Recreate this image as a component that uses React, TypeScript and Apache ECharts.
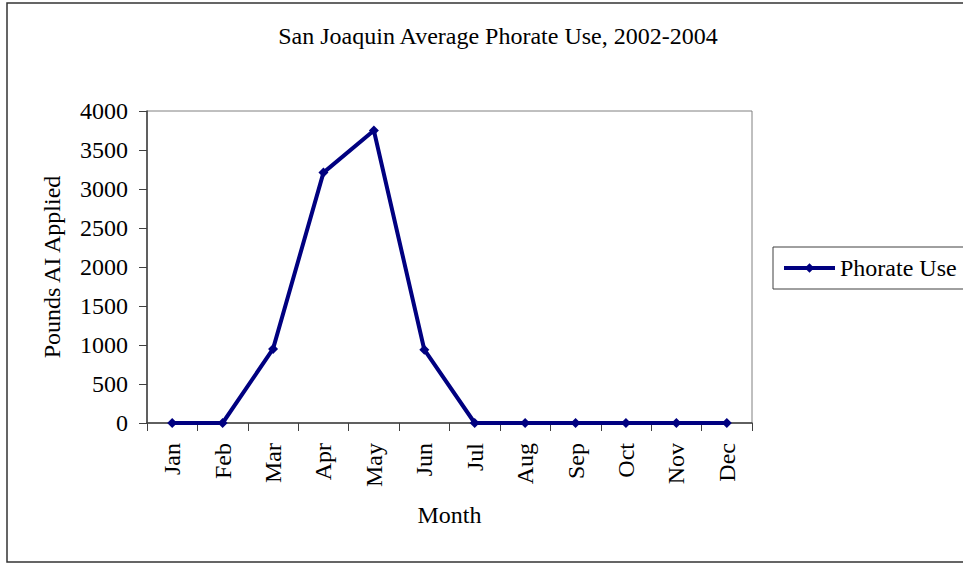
import React, { useEffect, useRef } from "react";
import * as echarts from "echarts";

const months = ["Jan", "Feb", "Mar", "Apr", "May", "Jun", "Jul", "Aug", "Sep", "Oct", "Nov", "Dec"];
const phorateUse = [0, 0, 950, 3210, 3750, 940, 0, 0, 0, 0, 0, 0];
const yTicks = { min: 0, max: 4000, interval: 500 };
const titleText = "San Joaquin Average Phorate Use, 2002-2004";
const seriesName = "Phorate Use";
const xName = "Month";
const yName = "Pounds AI Applied";

const FONT = "'Liberation Serif', 'Times New Roman', serif";

export default function App() {
  const ref = useRef<HTMLDivElement>(null);
  useEffect(() => {
    if (!ref.current) return;
    const chart = echarts.init(ref.current, null, { renderer: "svg" });
    chart.setOption({
      animation: false,
      backgroundColor: "#ffffff",
      textStyle: { fontFamily: FONT, color: "#000" },
      title: {
        text: titleText,
        left: 493,
        top: 19,
        textAlign: "center",
        textStyle: { fontFamily: FONT, fontSize: 24, fontWeight: "normal", color: "#000" },
      },
      graphic: [
        {
          type: "rect",
          shape: { x: 7, y: 3, width: 962, height: 559 },
          style: { fill: "none", stroke: "#333", lineWidth: 1.5 },
          silent: true,
          z: -1,
        },
      ],
      legend: {
        left: 773,
        top: 247,
        orient: "vertical",
        itemWidth: 51,
        itemHeight: 12,
        itemGap: 0,
        padding: [8, 12, 8, 9],
        borderColor: "#404040",
        borderWidth: 1,
        backgroundColor: "#fff",
        lineStyle: { width: 4, color: "#000080" },
        textStyle: { fontFamily: FONT, fontSize: 24, color: "#000", lineHeight: 26 },
        data: [{ name: seriesName }],
      },
      grid: {
        left: 147,
        top: 111,
        width: 605,
        height: 312,
        show: true,
        borderColor: "#808080",
        borderWidth: 1,
        containLabel: false,
      },
      xAxis: {
        type: "category",
        data: months,
        boundaryGap: true,
        name: xName,
        nameLocation: "middle",
        nameGap: 80,
        nameTextStyle: { fontFamily: FONT, fontSize: 24, color: "#000" },
        axisLine: { lineStyle: { color: "#404040", width: 1.5 } },
        axisTick: { show: true, alignWithLabel: false, length: 8, lineStyle: { color: "#404040" } },
        axisLabel: { rotate: 90, margin: 20, fontFamily: FONT, fontSize: 24, color: "#000", interval: 0 },
        splitLine: { show: false },
      },
      yAxis: {
        type: "value",
        min: yTicks.min,
        max: yTicks.max,
        interval: yTicks.interval,
        name: yName,
        nameLocation: "middle",
        nameGap: 83,
        nameTextStyle: { fontFamily: FONT, fontSize: 24, color: "#000" },
        axisLine: { show: true, lineStyle: { color: "#404040", width: 1.5 } },
        axisTick: { show: true, length: 8, lineStyle: { color: "#404040" } },
        axisLabel: {
          margin: 19,
          fontFamily: FONT,
          fontSize: 24,
          color: "#000",
          formatter: (v: number) => String(v),
        },
        splitLine: { show: false },
      },
      series: [
        {
          name: seriesName,
          type: "line",
          data: phorateUse,
          symbol: "diamond",
          symbolSize: 10,
          lineStyle: { color: "#000080", width: 4 },
          itemStyle: { color: "#000080" },
        },
      ],
    });
    return () => chart.dispose();
  }, []);
  return <div ref={ref} style={{ position: "absolute", left: 0, top: 0, width: 963, height: 563 }} />;
}
